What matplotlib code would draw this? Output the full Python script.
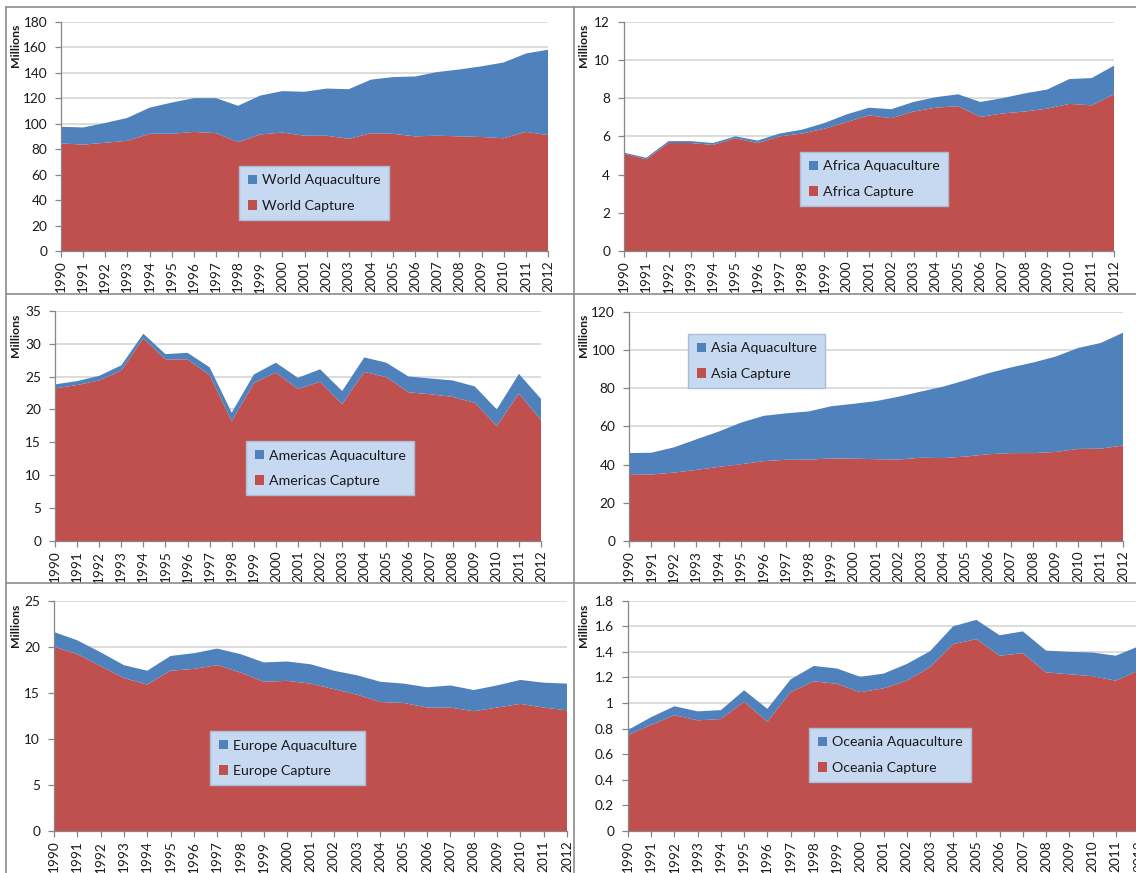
import matplotlib
matplotlib.use('Agg')
import matplotlib.pyplot as plt
from matplotlib.patches import Patch
from matplotlib.lines import Line2D
from matplotlib.ticker import MultipleLocator, FuncFormatter

plt.rcParams['font.family'] = ['Lato', 'DejaVu Sans']

years = [str(y) for y in range(1990, 2013)]

world_capture = [84.5, 83.5, 85, 86.5, 92, 92, 93.5, 92.5, 85.5, 91.5, 93, 90.5,
                 90.5, 88, 92.5, 92, 90, 90.5, 90, 89.5, 88.5, 93.5, 91]
world_aqua = [13, 13.5, 15.5, 18, 20.5, 24.5, 26.5, 27.5, 28.5, 30.5, 32.5, 34.5,
              37, 39, 42, 44.5, 47, 50, 52.5, 55.5, 59.5, 61.5, 67]

africa_capture = [5.1, 4.8, 5.65, 5.65, 5.55, 5.9, 5.65, 6.0, 6.15, 6.4, 6.75, 7.1,
                  6.95, 7.3, 7.5, 7.58, 7.02, 7.2, 7.3, 7.45, 7.7, 7.62, 8.2]
africa_aqua = [0.05, 0.08, 0.1, 0.1, 0.1, 0.1, 0.13, 0.15, 0.2, 0.3, 0.4, 0.4,
               0.47, 0.5, 0.55, 0.62, 0.78, 0.8, 0.95, 1.0, 1.3, 1.43, 1.5]

americas_capture = [23.2, 23.7, 24.4, 25.9, 30.8, 27.6, 27.6, 25.2, 18.2, 24.0, 25.6, 23.1,
                    24.2, 20.8, 25.7, 24.9, 22.6, 22.3, 21.9, 21.0, 17.5, 22.4, 18.4]
americas_aqua = [0.6, 0.6, 0.7, 0.8, 0.7, 0.8, 1.0, 1.2, 1.3, 1.3, 1.5, 1.7,
                 1.9, 2.0, 2.2, 2.2, 2.4, 2.4, 2.5, 2.5, 2.5, 3.0, 3.2]

asia_capture = [35, 34.8, 35.8, 37.2, 38.8, 40.2, 41.8, 42.5, 42.6, 43.2, 43.1, 42.8,
                42.6, 43.6, 43.4, 44.2, 45.4, 46.0, 46.0, 46.6, 48.2, 48.3, 50]
asia_aqua = [11, 11.4, 13.2, 16, 18.5, 21.8, 23.7, 24.3, 25.2, 27.3, 28.7, 30.4,
             32.9, 34.6, 37.4, 40, 42.4, 44.8, 47.4, 49.9, 52.8, 55.3, 59]

europe_capture = [20.0, 19.2, 17.9, 16.6, 15.9, 17.4, 17.6, 18.0, 17.2, 16.2, 16.3, 16.0,
                  15.4, 14.8, 14.0, 13.9, 13.4, 13.4, 13.0, 13.4, 13.8, 13.4, 13.1]
europe_aqua = [1.6, 1.5, 1.5, 1.4, 1.5, 1.6, 1.7, 1.8, 2.0, 2.1, 2.1, 2.1,
               2.0, 2.1, 2.2, 2.1, 2.2, 2.4, 2.3, 2.4, 2.6, 2.7, 2.9]

oceania_capture = [0.75, 0.83, 0.905, 0.865, 0.875, 1.01, 0.855, 1.085, 1.17, 1.15, 1.085, 1.115,
                   1.175, 1.28, 1.46, 1.50, 1.37, 1.39, 1.24, 1.225, 1.21, 1.175, 1.255]
oceania_aqua = [0.04, 0.06, 0.07, 0.07, 0.07, 0.09, 0.10, 0.10, 0.12, 0.12, 0.12, 0.115,
                0.13, 0.125, 0.14, 0.15, 0.16, 0.17, 0.17, 0.175, 0.185, 0.195, 0.19]

regions = ['World', 'Africa', 'Americas', 'Asia', 'Europe', 'Oceania']
captures = [world_capture, africa_capture, americas_capture, asia_capture, europe_capture, oceania_capture]
aquas = [world_aqua, africa_aqua, americas_aqua, asia_aqua, europe_aqua, oceania_aqua]
y_max = [180, 12, 35, 120, 25, 1.8]
y_step = [20, 2, 5, 20, 5, 0.2]

W, H = 1136, 873
# plot area in pixels: left, top, right, bottom
areas = [(61, 21.7, 548, 251), (624, 21.7, 1114, 251),
         (55, 310.7, 541, 541), (629, 311.7, 1123, 541),
         (54, 600.7, 567, 831), (628, 600.7, 1139, 831)]
legend_pos = [(239, 166), (800, 152), (246, 441), (688, 334), (210, 731), (809, 728)]
millions_pos = [(15, 45), (584, 45), (16, 335), (584, 335), (15, 625), (584, 625)]

RED = '#C0504D'
BLUE = '#4F81BD'
GRID = '#D9D9D9'
AXC = '#868686'
TXT = '#1a1a1a'

fig = plt.figure(figsize=(W / 100, H / 100), dpi=100)
fig.patch.set_facecolor('white')

def fmt(v, pos):
    s = ('%.1f' % v).rstrip('0').rstrip('.')
    return s

for i, reg in enumerate(regions):
    l, t, r, b = areas[i]
    ax = fig.add_axes([l / W, 1 - b / H, (r - l) / W, (b - t) / H])
    x = list(range(len(years)))
    ax.stackplot(x, captures[i], aquas[i], colors=[RED, BLUE], linewidth=0, zorder=2)
    ax.set_xlim(0, len(years) - 1)
    ax.set_ylim(0, y_max[i])
    ax.yaxis.set_major_locator(MultipleLocator(y_step[i]))
    ax.yaxis.set_major_formatter(FuncFormatter(fmt))
    ax.set_xticks(x)
    ax.set_xticklabels(years, rotation=90)
    ax.grid(axis='y', color=GRID, linewidth=1.3, zorder=0)
    ax.set_axisbelow(True)
    for s in ['top', 'right']:
        ax.spines[s].set_visible(False)
    for s in ['left', 'bottom']:
        ax.spines[s].set_color(AXC)
        ax.spines[s].set_linewidth(0.9)
    ax.tick_params(axis='both', colors=AXC, labelcolor=TXT, labelsize=9.8,
                   length=4, width=0.9, direction='out')
    ax.tick_params(axis='y', pad=6)
    ax.tick_params(axis='x', pad=3)
    ax.set_facecolor('none')

    handles = [Patch(facecolor=BLUE, edgecolor='none', label=f'{reg} Aquaculture'),
               Patch(facecolor=RED, edgecolor='none', label=f'{reg} Capture')]
    lx, ly = legend_pos[i]
    leg = ax.legend(handles=handles, loc='upper left',
                    bbox_to_anchor=(lx / W, 1 - ly / H), bbox_transform=fig.transFigure,
                    fontsize=10.2, frameon=True, fancybox=False, borderpad=0.6,
                    labelspacing=0.95, handlelength=0.65, handleheight=0.65,
                    handletextpad=0.35, borderaxespad=0)
    leg.get_frame().set_facecolor('#C6D9F1')
    leg.get_frame().set_edgecolor('#A9BCD8')
    leg.get_frame().set_linewidth(1.0)
    leg.get_frame().set_alpha(1)
    for txt in leg.get_texts():
        txt.set_color(TXT)

    mx, my = millions_pos[i]
    fig.text(mx / W, 1 - my / H, 'Millions', rotation=90, ha='center', va='center',
             fontsize=8.8, fontweight='bold', color=TXT)

# panel borders
BC = '#8c8c8c'
def hline(y, x0, x1):
    fig.add_artist(Line2D([x0 / W, x1 / W], [1 - y / H, 1 - y / H], color=BC, linewidth=1.2))
def vline(x, y0, y1):
    fig.add_artist(Line2D([x / W, x / W], [1 - y0 / H, 1 - y1 / H], color=BC, linewidth=1.2))

hline(6.5, 6, W)
hline(294, 6, W)
hline(583, 6, W)
vline(6, 6.5, H)
vline(574, 6.5, H)

fig.savefig('out.png', dpi=100, facecolor='white')
